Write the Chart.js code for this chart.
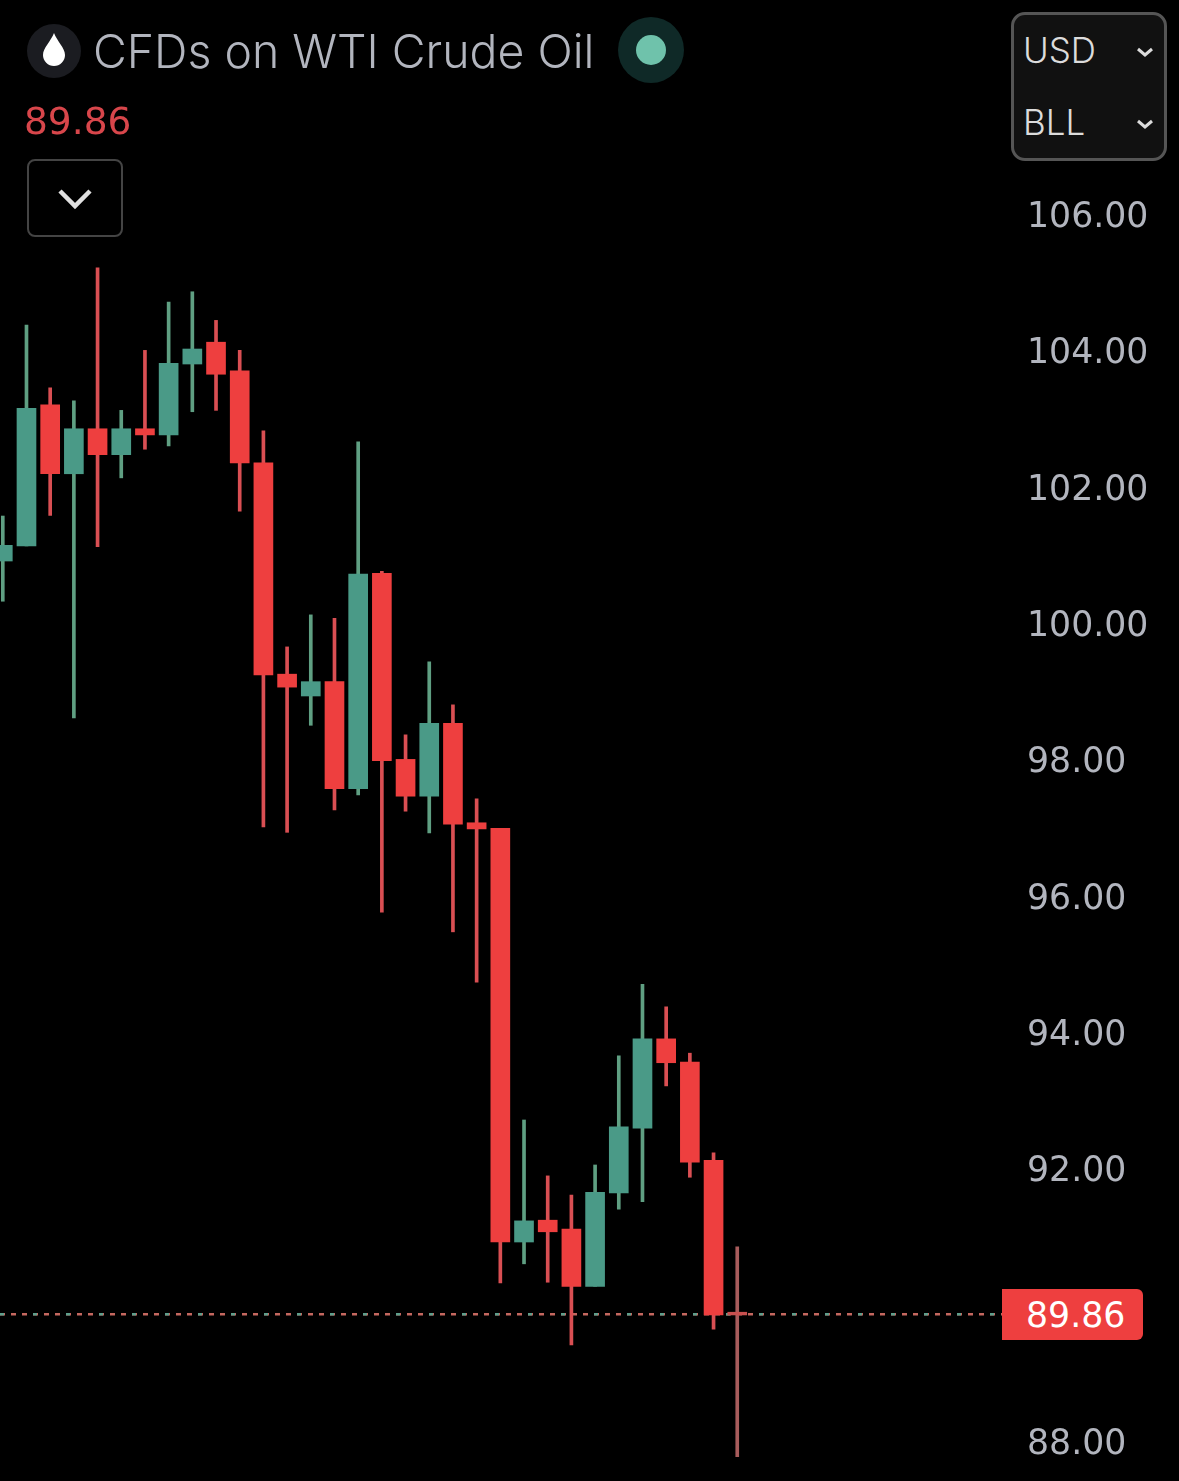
<!DOCTYPE html>
<html>
<head>
<meta charset="utf-8">
<title>CFDs on WTI Crude Oil</title>
<script src="https://cdn.jsdelivr.net/npm/chart.js@4/dist/chart.umd.min.js"></script>
<style>
  html, body { margin: 0; padding: 0; background: #000; }
  body { width: 1179px; height: 1481px; overflow: hidden; position: relative; font-family: Inter, "Liberation Sans", sans-serif; }
  #wrap { position: absolute; left: 0; top: 0; width: 1179px; height: 1481px; }
  .abs { position: absolute; }
  #title { left: 93px; top: 21px; font-size: 46.4px; line-height: 60px; color: #b2b5be; white-space: nowrap; font-weight: 300; }
  #drop-icon { left: 27px; top: 24px; width: 54px; height: 54px; border-radius: 50%; background: #1b1c21; }
  #status { left: 618px; top: 17px; width: 66px; height: 66px; border-radius: 50%; background: #0f2927; }
  #status i { position: absolute; left: 18px; top: 18px; width: 30px; height: 30px; border-radius: 50%; background: #6fc2ab; }
  #last { left: 24px; top: 98px; font-family: "DejaVu Sans"; font-size: 37.5px; line-height: 46px; color: #d8464b; }
  #toggle { left: 27px; top: 159px; width: 92px; height: 74px; border: 2px solid #444; border-radius: 8px; }
  #units { left: 1011px; top: 12px; width: 150px; height: 143px; border: 3px solid #555; border-radius: 14px; background: #111; }
  .unit { position: absolute; left: 9px; font-size: 35px; line-height: 44px; color: #dcdcdc; font-weight: 300; }
  #tag { left: 1002px; width: 141px; height: 51px; background: #ee3f3f; border-radius: 0 6px 6px 0; color: #fff; font-family: "DejaVu Sans"; font-size: 34.7px; line-height: 53px; text-indent: 24px; }
</style>
</head>
<body>
<div id="wrap"><canvas id="chart"></canvas></div>

<div class="abs" id="drop-icon"></div>
<svg class="abs" style="left:43px;top:33px" width="22" height="33" viewBox="0 0 22 33"><path d="M11 0 C14 8 22 15 22 22 A11 11 0 0 1 0 22 C0 15 8 8 11 0 Z" fill="#fff"/></svg>
<div class="abs" id="title">CFDs on WTI Crude Oil</div>
<div class="abs" id="status"><i></i></div>
<div class="abs" id="last">89.86</div>
<div class="abs" id="toggle"></div>
<svg class="abs" style="left:56px;top:187px" width="38" height="24" viewBox="0 0 38 24"><path d="M4 4 L19 19 L34 4" fill="none" stroke="#e0e0e0" stroke-width="4.5"/></svg>
<div class="abs" id="units">
  <div class="unit" style="top:13px">USD</div>
  <div class="unit" style="top:85px">BLL</div>
</div>
<svg class="abs" style="left:1135px;top:46px" width="20" height="12" viewBox="0 0 20 12"><path d="M3 3 L10 9 L17 3" fill="none" stroke="#dcdcdc" stroke-width="3"/></svg>
<svg class="abs" style="left:1135px;top:118px" width="20" height="12" viewBox="0 0 20 12"><path d="M3 3 L10 9 L17 3" fill="none" stroke="#dcdcdc" stroke-width="3"/></svg>
<div class="abs" id="tag">89.86</div>

<script>
  const opens  = [100.91, 101.13, 103.20, 102.19, 102.85, 102.47, 102.85, 102.76, 103.80, 104.12, 103.70,
                  102.35, 99.25, 98.93, 99.14, 97.57, 100.73, 98.00, 97.46, 98.53, 97.07, 96.99,
                  90.92, 91.24, 91.11, 90.27, 91.64, 92.59, 93.90, 93.56, 92.12, 89.89];
  const highs  = [101.57, 104.37, 103.45, 103.26, 105.21, 103.12, 104.00, 104.71, 104.86, 104.44, 104.00,
                  102.82, 99.65, 100.12, 100.07, 102.66, 100.76, 98.36, 99.43, 98.80, 97.42, 96.99,
                  92.71, 91.89, 91.61, 92.05, 93.65, 94.70, 94.37, 93.69, 92.23, 90.85];
  const lows   = [100.32, 101.13, 101.58, 98.61, 101.12, 102.13, 102.55, 102.60, 103.10, 103.12, 101.64,
                  97.01, 96.93, 98.50, 97.26, 97.48, 95.76, 97.24, 96.92, 95.47, 94.73, 90.32,
                  90.60, 90.33, 89.41, 90.27, 91.40, 91.51, 93.21, 91.87, 89.64, 87.77];
  const closes = [101.14, 103.15, 102.19, 102.85, 102.47, 102.85, 102.76, 103.81, 104.02, 103.65, 102.35,
                  99.24, 99.06, 99.14, 97.57, 100.72, 97.98, 97.46, 98.53, 97.05, 96.98, 90.92,
                  91.23, 91.07, 90.27, 91.65, 92.61, 93.90, 93.55, 92.09, 89.85, 89.85];
  const priceTicks = [88, 92, 94, 96, 98, 100, 102, 104, 106];
  const lastPrice = 89.86;
  const lastPriceSpan = [-0.118, 43.23];

  const bodyUp = '#4a9a87', bodyDown = '#ee3f3f';
  const wickUp = '#5f9f82', wickDown = '#d94f53';
  const lastIdx = closes.length - 1;

  function isUp(i) { return closes[i] >= opens[i]; }

  const wicks = highs.map((h, i) => ({ x: i, y: [lows[i], h] }));
  const bodies = opens.map((o, i) => ({ x: i, y: [o, closes[i]] }));
  const priceLine = lastPriceSpan.map(x => ({ x, y: lastPrice }));

  const chart = new Chart(document.getElementById('chart'), {
    data: {
      datasets: [
        {
          type: 'line', data: priceLine, order: 4, pointRadius: 0, borderWidth: 2.5,
          borderColor: '#c4675f', borderDash: [5, 6],
        },
        {
          type: 'line', data: priceLine, order: 3, pointRadius: 0, borderWidth: 2.5,
          borderColor: '#5f9f8c', borderDash: [4, 29],
        },
        {
          type: 'bar', data: wicks, order: 2, grouped: false, barThickness: 3, borderWidth: 0,
          backgroundColor: c => c.dataIndex === lastIdx ? '#a85c5c' : (isUp(c.dataIndex) ? wickUp : wickDown),
        },
        {
          type: 'bar', data: bodies, order: 1, grouped: false, barThickness: 19, borderWidth: 0,
          backgroundColor: c => c.dataIndex === lastIdx ? '#c8504f' : (isUp(c.dataIndex) ? bodyUp : bodyDown),
        },
      ],
    },
    options: {
      responsive: true,
      maintainAspectRatio: false,
      animation: false,
      layout: { padding: 0 },
      plugins: { legend: { display: false }, tooltip: { enabled: false } },
      scales: {
        x: { type: 'linear', min: -0.118, max: 43.23, offset: false, display: false },
        y: {
          position: 'right',
          min: 87.414,
          max: 109.14,
          border: { display: false },
          grid: { display: false, drawTicks: false },
          afterBuildTicks: axis => { axis.ticks = priceTicks.map(value => ({ value })); },
          afterFit: axis => {
            axis.width = 152;
            axis.paddingTop = 0;
            axis.paddingBottom = 0;
          },
          ticks: {
            color: '#b2b5be',
            padding: 0,
            labelOffset: 4,
            autoSkip: false,
            font: { family: 'DejaVu Sans', size: 34.7 },
            callback: v => v.toFixed(2),
          },
        },
      },
    },
  });

  document.getElementById('tag').style.top = (chart.scales.y.getPixelForValue(lastPrice) - 25) + 'px';
</script>
</body>
</html>
